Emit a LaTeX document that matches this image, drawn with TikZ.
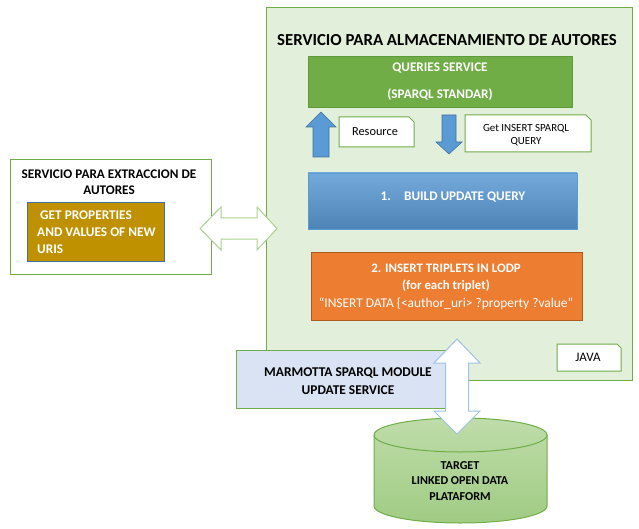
\documentclass[tikz,border=0pt]{standalone}
\usepackage{fontspec}
\setmainfont{Carlito}
\definecolor{cfill}{HTML}{E2EFDA}
\definecolor{cgreen}{HTML}{70AD47}
\definecolor{dgreen}{HTML}{5E9A3A}
\definecolor{cblue}{HTML}{5B9BD5}
\definecolor{dblue}{HTML}{41719C}
\definecolor{cgold}{HTML}{BF9000}
\definecolor{corange}{HTML}{ED7D31}
\definecolor{dorange}{HTML}{AE5A21}
\definecolor{cmarm}{HTML}{DAE3F3}
\definecolor{lgreen}{HTML}{A9D18E}
\definecolor{lblue}{HTML}{9DC3E6}
\begin{document}
\begin{tikzpicture}[x=1pt,y=-1pt,
  txt/.style={inner sep=0pt,align=center,font=\fontsize{13.2}{15.5}\selectfont\bfseries},
  wtxt/.style={txt,text=white},
  box/.style={draw=cgreen,line width=1pt},
  blockarrow/.style={fill=cblue,draw=dblue,line width=0.6pt},
  fatarrow/.style={fill=white,line width=1pt}]
\useasboundingbox (0,0) rectangle (639,529);
% main container
\draw[box,fill=cfill] (266,8) rectangle (632,380);
\node[txt,font=\fontsize{16.8}{20}\selectfont\bfseries] (title) at (447,40) {SERVICIO PARA ALMACENAMIENTO DE AUTORES};
% queries service
\draw[fill=cgreen,draw=dgreen,line width=0.8pt] (308,56) rectangle (572,107);
\node[wtxt] (qs1) at (440,68) {QUERIES SERVICE};
\node[wtxt] (qs2) at (440,95) {(SPARQL STANDAR)};
% up/down arrows
\draw[blockarrow] (321,112) -- (336,127) -- (329,127) -- (329,157) -- (313,157) -- (313,127) -- (306,127) -- cycle;
\draw[blockarrow] (449,154) -- (462,142) -- (456,142) -- (456,115) -- (442,115) -- (442,142) -- (436,142) -- cycle;
% note boxes
\draw[box,fill=white] (339,117) -- (409,117) -- (414,122) -- (414,147) -- (339,147) -- cycle;
\node[inner sep=0pt,font=\fontsize{12.3}{14}\selectfont] (res) at (375,132) {Resource};
\draw[box,fill=white] (465,115) -- (586,115) -- (591,120) -- (591,152) -- (465,152) -- cycle;
\node[inner sep=0pt,align=center,font=\fontsize{10.9}{13}\selectfont] (get) at (526,135.5) {Get INSERT SPARQL\\QUERY};
% build update query
\draw[draw=cblue,top color=cblue!85!white,bottom color=cblue!85!black,line width=0.8pt] (308,173) rectangle (577,229);
\node[wtxt] (build) at (453,197) {1.\hspace{1em}BUILD UPDATE QUERY};
% insert triplets
\draw[fill=corange,draw=dorange,line width=0.8pt] (311,252) rectangle (582,320);
\node[wtxt,font=\fontsize{12.9}{15}\selectfont\bfseries] (ins1) at (446,268) {2. INSERT TRIPLETS IN LODP};
\node[wtxt,font=\fontsize{12.9}{15}\selectfont\bfseries] (ins2) at (446,285.5) {(for each triplet)};
\node[inner sep=0pt,text=white,font=\fontsize{13.4}{15}\selectfont] (ins3) at (446,304) {“INSERT DATA \{<author\_uri> ?property ?value”};
% java
\draw[box,fill=white] (557,344) -- (617,344) -- (621,348) -- (621,371) -- (557,371) -- cycle;
\node[inner sep=0pt,font=\fontsize{13}{14}\selectfont] (java) at (588,357) {JAVA};
% left service
\draw[box,fill=white] (10,160) rectangle (211,274);
\node[txt] (ext) at (109,182) {SERVICIO PARA EXTRACCION DE\\AUTORES};
\draw[fill=cgold,draw=dblue,line width=0.8pt] (27,202) rectangle (164,261);
\node[wtxt,align=left,anchor=west,font=\fontsize{13.3}{17}\selectfont\bfseries] (props) at (37,232) {\hspace{3pt}GET PROPERTIES\\AND VALUES OF NEW\\URIS};
% horizontal double arrow
\draw[fatarrow,draw=lgreen] (200,228.5) -- (221,207) -- (221,218) -- (257,218) -- (257,207) -- (277,228.5) -- (257,250) -- (257,239) -- (221,239) -- (221,250) -- cycle;
% marmotta
\draw[box,fill=cmarm] (236,350) rectangle (446,408);
\node[txt,font=\fontsize{13.4}{18}\selectfont\bfseries] (marm) at (348,381) {MARMOTTA SPARQL MODULE\\UPDATE SERVICE};
% cylinder
\draw[draw=cgreen,line width=1pt,top color=lgreen!75!white,bottom color=lgreen!85!cgreen] (374,435) -- (374,506) arc (180:0:86.5 and 17) -- (547,435) arc (0:-180:86.5 and 17) -- cycle;
\draw[draw=cgreen,line width=1pt] (374,435) arc (180:0:86.5 and 17);
\node[txt,font=\fontsize{12.1}{15.5}\selectfont\bfseries] (db) at (460,481) {TARGET\\LINKED OPEN DATA\\PLATAFORM};
% vertical double arrow
\draw[fatarrow,draw=lblue] (457,339) -- (480,363) -- (468.5,363) -- (468.5,411) -- (480,411) -- (457,434) -- (434,411) -- (445.5,411) -- (445.5,363) -- (434,363) -- cycle;
\end{tikzpicture}
\end{document}
